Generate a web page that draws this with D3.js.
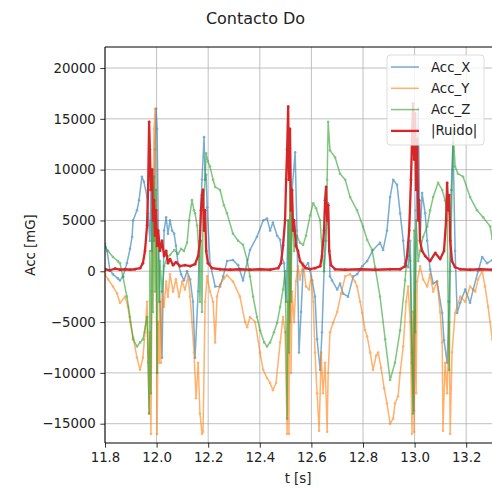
<!DOCTYPE html>
<html>
<head>
<meta charset="utf-8">
<script src="https://cdn.jsdelivr.net/npm/d3@7"></script>
<style>
  body { margin: 0; background: #fff; }
  svg { font-family: "DejaVu Sans", sans-serif; }
</style>
</head>
<body>
<svg id="viz" width="492" height="489"></svg>
<script>
// [t (s), value (mG)]
const accX = [
  [11.800, 2700], [11.808, 2000], [11.819, 100], [11.831, -300], [11.850, -700], [11.858, -900],
  [11.870, -500], [11.885, 800], [11.897, 2200], [11.905, 3400], [11.909, 5000], [11.924, 6000],
  [11.932, 7000], [11.943, 9300], [11.951, 8800], [11.963, 7300], [11.967, 5700], [11.974, 3000],
  [11.978, 8000], [11.982, 2000], [11.986, 10000], [11.990, 3000], [11.994, 12000], [11.998, 16000],
  [12.002, 14000], [12.006, 5000], [12.013, -3000], [12.021, -8500], [12.029, 4000], [12.037, 5300],
  [12.044, 3700], [12.052, 5000], [12.060, 4000], [12.068, 3700], [12.075, 2500], [12.083, 800],
  [12.095, -300], [12.106, -900], [12.118, 0], [12.130, -800], [12.141, -3000], [12.149, -8500],
  [12.161, -2000], [12.168, 4000], [12.176, 9000], [12.184, 13200], [12.188, 9000], [12.192, 9500],
  [12.196, 6300], [12.207, 800], [12.227, -1500], [12.246, -1500], [12.258, -500], [12.273, 1000],
  [12.296, 1100], [12.316, 600], [12.335, -900], [12.362, 2100], [12.389, 3400], [12.413, 5000],
  [12.428, 5200], [12.440, 4000], [12.451, 4800], [12.467, 3500], [12.479, 3100], [12.486, 1400],
  [12.494, 800], [12.502, -3000], [12.510, 5000], [12.517, -5000], [12.525, 8000], [12.537, 11700],
  [12.544, 4000], [12.552, -8000], [12.560, -4000], [12.568, 200], [12.587, 800], [12.603, -900],
  [12.614, -2500], [12.622, -6700], [12.634, -9700], [12.641, -6000], [12.653, 3000], [12.665, 6700],
  [12.672, -500], [12.680, -900], [12.700, -1800], [12.711, -1200], [12.723, -2200], [12.742, -2500],
  [12.762, -500], [12.777, -300], [12.797, 500], [12.816, 1000], [12.839, 2100], [12.866, 2800],
  [12.878, 2100], [12.893, 4000], [12.905, 7300], [12.917, 9000], [12.932, 8500], [12.944, 5700],
  [12.956, 3000], [12.963, 800], [12.975, 400], [12.983, 3000], [12.990, -8000], [12.998, -13700],
  [13.006, 6000], [13.014, 16000], [13.021, 3000], [13.029, 7700], [13.041, 5700], [13.049, 3000],
  [13.060, 200], [13.072, -1200], [13.087, -1000], [13.107, -4100], [13.114, -6800], [13.126, -9000],
  [13.134, -3000], [13.142, 8000], [13.149, 12600], [13.157, 2000], [13.165, -4100], [13.177, -3100],
  [13.196, -1800], [13.215, -3100], [13.227, -1800], [13.246, 0], [13.262, 1400], [13.281, 800],
  [13.301, 1100]
];

const accY = [
  [11.800, -300], [11.812, -800], [11.831, -1500], [11.847, -2200], [11.858, -3100], [11.878, -2500],
  [11.889, -3500], [11.897, -5000], [11.909, -6500], [11.924, -8500], [11.936, -9700], [11.947, -8500],
  [11.955, -6000], [11.963, -3000], [11.967, -8000], [11.971, -14000], [11.974, -6000], [11.978, -16000],
  [11.982, -2000], [11.986, 6000], [11.990, 14000], [11.994, 16000], [11.998, 4000], [12.002, -16000],
  [12.006, -5000], [12.010, -9000], [12.013, -3000], [12.017, -9000], [12.021, -2000], [12.029, -3500],
  [12.037, -1000], [12.044, -2500], [12.052, -300], [12.064, -2000], [12.075, -800], [12.087, -2500],
  [12.099, -1000], [12.110, -1800], [12.122, -500], [12.130, -2500], [12.137, -5000], [12.145, -8000],
  [12.153, -12500], [12.161, -9000], [12.168, -14000], [12.176, -16000], [12.180, -15800], [12.188, -3000],
  [12.196, -500], [12.207, -2000], [12.219, -3000], [12.227, -7000], [12.234, -2500], [12.246, -1300],
  [12.261, -700], [12.273, -400], [12.296, -1000], [12.323, -2500], [12.343, -5000], [12.351, -5500],
  [12.362, -4500], [12.382, -5000], [12.401, -8000], [12.413, -9700], [12.428, -10500], [12.440, -11000],
  [12.451, -11700], [12.463, -11000], [12.479, -7000], [12.490, -4500], [12.498, -6000], [12.506, -16000],
  [12.510, -3000], [12.513, -16000], [12.517, 12000], [12.521, -10000], [12.525, -2000], [12.533, -5000],
  [12.540, -1000], [12.548, 500], [12.556, -800], [12.568, 800], [12.579, -1500], [12.591, -1800],
  [12.599, -500], [12.607, -3000], [12.614, -8000], [12.622, -12000], [12.630, -15700], [12.638, -8000],
  [12.645, -12000], [12.653, -9000], [12.661, -15800], [12.665, -10000], [12.672, -6000], [12.684, -5100],
  [12.700, -4000], [12.715, -2200], [12.731, -500], [12.750, -300], [12.769, -1000], [12.777, -1500],
  [12.789, -3000], [12.797, -4100], [12.808, -5800], [12.816, -6400], [12.828, -8000], [12.839, -9700],
  [12.851, -8300], [12.859, -8000], [12.870, -9500], [12.882, -11500], [12.893, -13000], [12.905, -15000],
  [12.917, -14500], [12.924, -13000], [12.936, -12300], [12.944, -10000], [12.956, -7400], [12.967, -3000],
  [12.975, -1500], [12.983, -5000], [12.990, -16000], [12.994, -4000], [12.998, -15800], [13.002, -2000],
  [13.006, -12000], [13.010, -1000], [13.021, 500], [13.033, -800], [13.049, -1500], [13.060, -300],
  [13.072, -2000], [13.087, -1000], [13.099, -4000], [13.107, -7000], [13.110, -15700], [13.118, -9000],
  [13.126, -12000], [13.134, -5000], [13.138, -16000], [13.145, -8000], [13.157, -4100], [13.177, -2500],
  [13.196, -3000], [13.215, -1500], [13.235, -2000], [13.246, -800], [13.262, 0], [13.273, -1500],
  [13.285, -3500], [13.301, -6700]
];

const accZ = [
  [11.800, 2400], [11.812, 2000], [11.831, 1400], [11.850, 1000], [11.858, 800], [11.870, -600],
  [11.885, -2500], [11.897, -4500], [11.909, -6700], [11.924, -7400], [11.936, -7000], [11.947, -6700],
  [11.963, -4500], [11.967, -9000], [11.971, -14000], [11.974, 2000], [11.978, -12000], [11.982, 6000],
  [11.986, -4000], [11.990, 9300], [11.994, -2000], [11.998, 8000], [12.002, -10000], [12.006, 3000],
  [12.010, -3000], [12.013, 1000], [12.021, -2000], [12.029, 500], [12.041, 1400], [12.052, 1600],
  [12.068, 2100], [12.083, 1700], [12.095, 2200], [12.106, 2000], [12.118, 2800], [12.126, 5000],
  [12.137, 7000], [12.145, 6000], [12.149, 5700], [12.157, 4500], [12.164, 2000], [12.168, -3000],
  [12.172, 3000], [12.176, -4000], [12.180, 6000], [12.188, 9000], [12.192, 11600], [12.199, 10800],
  [12.207, 10300], [12.219, 9000], [12.227, 8300], [12.246, 8000], [12.261, 6500], [12.273, 5700],
  [12.296, 3700], [12.316, 3000], [12.335, 2600], [12.351, 1100], [12.362, -500], [12.374, -2500],
  [12.389, -4500], [12.401, -5800], [12.417, -7000], [12.428, -7400], [12.440, -7000], [12.455, -6000],
  [12.467, -5100], [12.479, -3500], [12.490, -1800], [12.498, 0], [12.502, -6000], [12.506, -14500],
  [12.510, 5000], [12.513, -8000], [12.517, 9000], [12.521, -3000], [12.525, 6000], [12.533, 2000],
  [12.544, 3500], [12.556, 2800], [12.568, 2600], [12.579, 3500], [12.595, 5500], [12.607, 6700],
  [12.618, 6200], [12.634, 5000], [12.641, 2000], [12.649, 0], [12.657, 3000], [12.661, 9000],
  [12.665, 14700], [12.672, 11900], [12.692, 11200], [12.711, 9600], [12.731, 9000], [12.750, 7300],
  [12.777, 6000], [12.800, 4400], [12.816, 3100], [12.835, 2100], [12.847, 400], [12.866, -2500],
  [12.886, -6700], [12.905, -10700], [12.924, -9000], [12.944, -5800], [12.963, -900], [12.975, 2800],
  [12.983, 1000], [12.990, -9000], [12.994, -14000], [12.998, 4000], [13.002, -6000], [13.006, 5000],
  [13.014, 1000], [13.021, 2000], [13.033, 3400], [13.049, 4400], [13.060, 6000], [13.072, 7300],
  [13.091, 8700], [13.107, 8000], [13.118, 7000], [13.126, 5700], [13.130, -3000], [13.134, -9700],
  [13.138, 0], [13.145, 8000], [13.149, 14000], [13.157, 10300], [13.168, 9600], [13.188, 9300],
  [13.215, 7300], [13.242, 6000], [13.266, 5300], [13.293, 4400], [13.301, 3200]
];

const ruido = [
  [11.800, 200], [11.819, 100], [11.839, 250], [11.858, 150], [11.878, 200], [11.897, 150],
  [11.916, 200], [11.936, 300], [11.947, 800], [11.955, 2000], [11.963, 4500], [11.967, 8000],
  [11.971, 14700], [11.974, 12000], [11.978, 8000], [11.982, 10000], [11.986, 5000], [11.990, 7000],
  [11.994, 3500], [11.998, 6000], [12.002, 2500], [12.006, 4000], [12.013, 2000], [12.021, 3000],
  [12.029, 1500], [12.037, 2000], [12.044, 800], [12.052, 1200], [12.064, 600], [12.075, 900],
  [12.091, 500], [12.110, 600], [12.130, 500], [12.149, 700], [12.161, 1500], [12.168, 3000],
  [12.172, 6000], [12.176, 7500], [12.180, 8000], [12.184, 4000], [12.188, 6000], [12.192, 2000],
  [12.199, 800], [12.215, 300], [12.246, 200], [12.285, 150], [12.323, 200], [12.362, 150],
  [12.401, 200], [12.440, 150], [12.471, 300], [12.482, 800], [12.490, 2500], [12.498, 5000],
  [12.502, 9000], [12.506, 12000], [12.510, 16200], [12.513, 9000], [12.517, 14000], [12.521, 6000],
  [12.525, 8000], [12.529, 4000], [12.533, 5000], [12.540, 2500], [12.548, 2000], [12.556, 1000],
  [12.568, 600], [12.579, 300], [12.595, 200], [12.614, 300], [12.634, 500], [12.641, 1500],
  [12.649, 4000], [12.653, 7000], [12.657, 8300], [12.661, 5000], [12.665, 6500], [12.669, 2000],
  [12.676, 600], [12.692, 200], [12.731, 150], [12.789, 200], [12.847, 150], [12.905, 200],
  [12.944, 200], [12.963, 500], [12.971, 1500], [12.979, 4000], [12.986, 9000], [12.990, 13000],
  [12.994, 16500], [12.998, 11000], [13.002, 15500], [13.006, 8000], [13.010, 13000], [13.014, 5000],
  [13.017, 7000], [13.021, 3000], [13.029, 2000], [13.041, 1500], [13.060, 1000], [13.080, 1800],
  [13.099, 1200], [13.114, 2000], [13.122, 5000], [13.126, 8700], [13.130, 6000], [13.134, 7500],
  [13.138, 3000], [13.145, 1000], [13.157, 400], [13.177, 200], [13.215, 150], [13.254, 200],
  [13.301, 150]
];

const seriesNames = ["Acc_X", "Acc_Y", "Acc_Z", "|Ruido|"];
const xTicks = [11.8, 12.0, 12.2, 12.4, 12.6, 12.8, 13.0, 13.2];
const yTicks = [-15000, -10000, -5000, 0, 5000, 10000, 15000, 20000];

(function () {
    'use strict';
    var svg = d3.select("#viz");
    var left = 105, right = 492, top = 47, bottom = 443;

    var x = d3.scaleLinear().domain([11.8, 13.3]).range([left, right]);
    var y = d3.scaleLinear().domain([-16900, 22070]).range([bottom, top]);

    var colors = ["#1f77b4", "#ff7f0e", "#2ca02c", "#d62728"];
    var data = [accX, accY, accZ, ruido];

    // grid
    var grid = svg.append("g").attr("stroke", "#b0b0b0").attr("stroke-width", 0.8);
    grid.selectAll(".gx").data(xTicks).enter().append("line")
        .attr("x1", d => x(d)).attr("x2", d => x(d)).attr("y1", top).attr("y2", bottom);
    grid.selectAll(".gy").data(yTicks).enter().append("line")
        .attr("x1", left).attr("x2", right).attr("y1", d => y(d)).attr("y2", d => y(d));

    svg.append("clipPath").attr("id", "clip")
        .append("rect").attr("x", left).attr("y", top)
        .attr("width", right - left).attr("height", bottom - top);

    var plot = svg.append("g").attr("clip-path", "url(#clip)");
    var line = d3.line().x(d => x(d[0])).y(d => y(d[1]));

    data.forEach(function (s, i) {
        var g = plot.append("g").attr("opacity", i < 3 ? 0.6 : 1);
        g.append("path").datum(s)
            .attr("d", line)
            .attr("fill", "none")
            .attr("stroke", colors[i])
            .attr("stroke-width", i < 3 ? 1.5 : 2.3)
            .attr("stroke-linejoin", "round");
        g.selectAll("circle").data(s).enter().append("circle")
            .attr("cx", d => x(d[0])).attr("cy", d => y(d[1]))
            .attr("r", i < 3 ? 1.3 : 1.4)
            .attr("fill", colors[i]);
    });

    // axes
    var xAxis = d3.axisBottom(x).tickValues(xTicks).tickFormat(d3.format(".1f")).tickSizeOuter(0).tickSize(4.7).tickPadding(4.5);
    var yAxis = d3.axisLeft(y).tickValues(yTicks).tickFormat(d => d < 0 ? "\u2212" + Math.abs(d) : d).tickSizeOuter(0).tickSize(4.7).tickPadding(4.5);

    var gx = svg.append("g").attr("transform", "translate(0," + bottom + ")").call(xAxis);
    var gy = svg.append("g").attr("transform", "translate(" + left + ",0)").call(yAxis);
    [gx, gy].forEach(function (g) {
        g.select(".domain").remove();
        g.selectAll(".tick line").attr("stroke", "#000").attr("stroke-width", 0.8);
        g.selectAll(".tick text").attr("fill", "#222").style("font-size", "13.3px")
            .style("font-family", "DejaVu Sans");
    });

    // spines
    svg.append("path")
        .attr("d", "M" + left + "," + top + "H" + right + "M" + left + "," + top + "V" + bottom + "H" + right)
        .attr("stroke", "#000").attr("stroke-width", 1).attr("fill", "none");

    // labels
    svg.append("text").attr("x", 255.5).attr("y", 24).attr("text-anchor", "middle")
        .style("font-size", "16px").attr("fill", "#222").text("Contacto Do");
    svg.append("text").attr("x", 298).attr("y", 483).attr("text-anchor", "middle")
        .style("font-size", "13.3px").attr("fill", "#222").text("t [s]");
    svg.append("text").attr("transform", "translate(35," + ((top + bottom) / 2) + ") rotate(-90)")
        .attr("text-anchor", "middle").style("font-size", "13.3px").attr("fill", "#222").text("Acc [mG]");

    // legend
    var lg = svg.append("g");
    lg.append("rect").attr("x", 387).attr("y", 55).attr("width", 97).attr("height", 90)
        .attr("rx", 3).attr("fill", "#fff").attr("fill-opacity", 0.8)
        .attr("stroke", "#ddd").attr("stroke-width", 1);
    seriesNames.forEach(function (name, i) {
        var by = 71.5 + i * 21.3;
        lg.append("line").attr("x1", 391).attr("x2", 419).attr("y1", by - 4.5).attr("y2", by - 4.5)
            .attr("stroke", colors[i]).attr("stroke-width", i < 3 ? 1.5 : 2.3)
            .attr("opacity", i < 3 ? 0.6 : 1);
        lg.append("text").attr("x", 431).attr("y", by).style("font-size", "13.3px")
            .attr("fill", "#222").text(name);
    });
}());
</script>
</body>
</html>
